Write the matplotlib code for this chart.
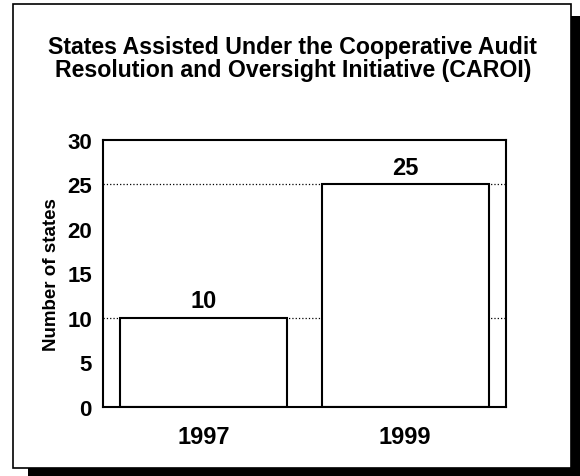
import matplotlib.pyplot as plt
from matplotlib.patches import Rectangle

plt.rcParams['font.family'] = ['Liberation Sans', 'DejaVu Sans']
plt.rcParams['font.weight'] = 'bold'

years = ['1997', '1999']
states = [10, 25]
title = ('States Assisted Under the Cooperative Audit\n'
         'Resolution and Oversight Initiative (CAROI)')

fig = plt.figure(figsize=(5.8, 4.77), dpi=100)

# drop shadow + white frame around the whole chart
fig.patches.append(Rectangle((28 / 580, 0), 552 / 580, 460 / 477,
                             transform=fig.transFigure, facecolor='black',
                             edgecolor='none', zorder=0))
fig.patches.append(Rectangle((13 / 580, 8 / 477), 558 / 580, 464 / 477,
                             transform=fig.transFigure, facecolor='white',
                             edgecolor='black', linewidth=1.2, zorder=1))

ax = fig.add_axes([0.1776, 0.1447, 0.6948, 0.5597])
ax.set_zorder(2)

for v in states:
    ax.axhline(v, color='black', linestyle=':', linewidth=0.9, zorder=1)

bars = ax.bar(range(len(years)), states, width=0.83, color='white',
              edgecolor='black', linewidth=1.5, zorder=2)
ax.bar_label(bars, padding=4, fontsize=17, fontweight='bold')

ax.set_xlim(-0.5, 1.5)
ax.set_ylim(0, 30)
ax.set_yticks(range(0, 31, 5))
ax.set_xticks(range(len(years)))
ax.set_xticklabels(years)
ax.tick_params(axis='both', length=0, labelsize=16)
ax.tick_params(axis='x', pad=13, labelsize=17)
ax.tick_params(axis='y', pad=8)
for s in ax.spines.values():
    s.set_linewidth(1.5)

ax.set_ylabel('Number of states', fontsize=13.5, fontweight='bold', labelpad=5)

fig.text(0.505, 0.876, title, ha='center', va='center', fontsize=16.7,
         fontweight='bold', linespacing=1.02)

fig.savefig('out.png', dpi=100)
